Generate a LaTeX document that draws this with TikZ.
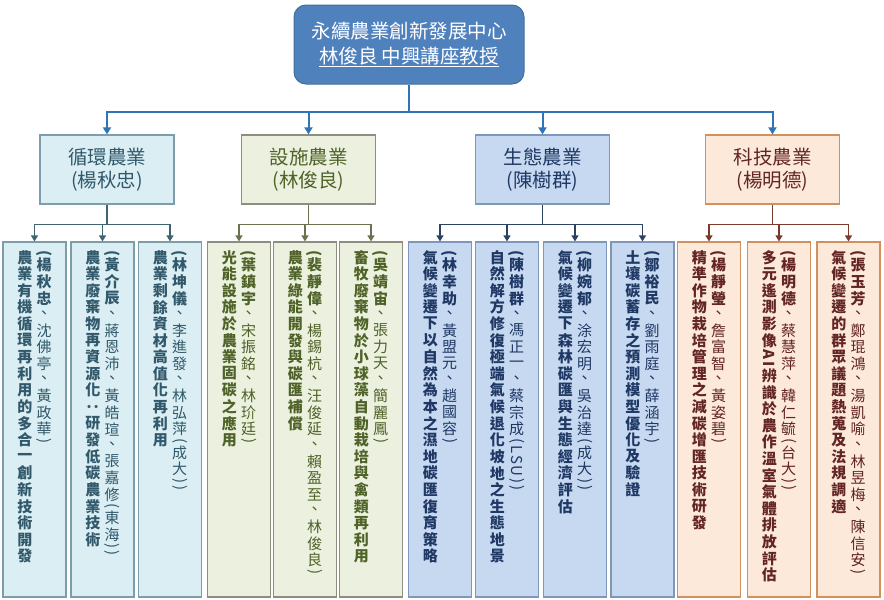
\documentclass[tikz,border=0pt]{standalone}
\usepackage{fontspec}
\setmainfont{Noto Sans CJK TC}
\usepackage{graphicx}
\usetikzlibrary{arrows.meta,calc}

\definecolor{topfill}{HTML}{4F81BD}
\definecolor{topdraw}{HTML}{41719C}
\definecolor{topline}{HTML}{2E75B6}
\definecolor{gAfill}{HTML}{DAEEF3}
\definecolor{gAdraw}{HTML}{7E9DAA}
\definecolor{gAtext}{HTML}{31596B}
\definecolor{gAline}{HTML}{3F6470}
\definecolor{gBfill}{HTML}{EBF1DE}
\definecolor{gBdraw}{HTML}{8E8E80}
\definecolor{gBtext}{HTML}{4F6228}
\definecolor{gBline}{HTML}{6E7150}
\definecolor{gCfill}{HTML}{C6D9F1}
\definecolor{gCdraw}{HTML}{8097BC}
\definecolor{gCtext}{HTML}{1F3864}
\definecolor{gCline}{HTML}{2D4263}
\definecolor{gDfill}{HTML}{FDE9D9}
\definecolor{gDdraw}{HTML}{D0915F}
\definecolor{gDtext}{HTML}{632523}
\definecolor{gDline}{HTML}{7B3A2C}

\makeatletter
\newdimen\vcw \vcw=17pt
\newdimen\vcp \vcp=16.6pt
\newdimen\vcc \vcc=15.6pt
\newcommand\vcell[1]{%
  \ifnum\expandafter`#1<128 %
    \vbox{\kern0.9pt\hbox to\vcw{\hss\rotatebox{-90}{#1}\hss}\kern0.9pt}%
  \else\ifnum\expandafter`#1=12289 %
    \vbox to\vcc{\vss\hbox to\vcw{\hss#1\hss}\vss}%
  \else\ifnum\expandafter`#1=65306 %
    \vbox to\vcp{\vss\hbox to\vcw{\hss\rotatebox{-90}{#1}\hss}\vss}%
  \else
    \vbox to\vcp{\vss\hbox to\vcw{\hss#1\hss}\vss}%
  \fi\fi\fi}
\newcommand\vseg[1]{\@tfor\vtmp:=#1\do{\vcell\vtmp}}
\makeatother
\newcommand\vtopic[1]{\vbox{\offinterlineskip\fontsize{15}{16}\selectfont\bfseries\vseg{#1}}}
\newcommand\vnames[2]{\vbox{\offinterlineskip\fontsize{15}{16}\selectfont\bfseries\vseg{#1}\mdseries\vseg{#2}}}

\tikzset{
  topbox/.style={draw=topdraw, fill=topfill, line width=1pt, rounded corners=12pt,
    minimum width=230pt, minimum height=79pt, text=white, align=center,
    font=\fontsize{19.5}{25}\selectfont},
  catbox/.style={line width=1.2pt, minimum width=134pt, minimum height=69pt,
    align=center, font=\fontsize{19.5}{23}\selectfont},
  leafbox/.style={line width=1.2pt, minimum width=63pt, minimum height=355pt, inner sep=0pt},
  coltext/.style={anchor=north, inner sep=0pt},
  toparrow/.style={draw=topline, line width=2pt, -{Triangle[width=8pt,length=7pt]}},
  topconn/.style={draw=topline, line width=2pt},
  gAbox/.style={fill=gAfill, draw=gAdraw}, gAtxt/.style={text=gAtext}, gAln/.style={draw=gAline},
  gBbox/.style={fill=gBfill, draw=gBdraw}, gBtxt/.style={text=gBtext}, gBln/.style={draw=gBline},
  gCbox/.style={fill=gCfill, draw=gCdraw}, gCtxt/.style={text=gCtext}, gCln/.style={draw=gCline},
  gDbox/.style={fill=gDfill, draw=gDdraw}, gDtxt/.style={text=gDtext}, gDln/.style={draw=gDline},
  leafconn/.style={line width=1.3pt},
  leafarrow/.style={line width=1.3pt, -{Triangle[width=7pt,length=6pt]}},
}

% #1 name, #2 left x, #3 group, #4 topic, #5 bold names, #6 other names
\newcommand\leaf[6]{%
  \node[leafbox,#3box] (#1) at (#2+31.5,419.5) {};
  \node[coltext,#3txt] (#1t) at ($(#1.north)+(-9.7,7.5)$) {\vtopic{#4}};
  \node[coltext,#3txt] (#1n) at ($(#1.north)+(9.7,7.5)$) {\vnames{#5}{#6}};
}

\begin{document}
\begin{tikzpicture}[x=1pt,y=-1pt]
\useasboundingbox[fill=white] (0,0) rectangle (884,600);

\node[topbox] (top) at (409,44.5) {永續農業創新發展中心\\\underline{林俊良 中興講座教授}};

\node[catbox,gAbox,gAtxt] (c1) at (107,169.5) {循環農業\\(楊秋忠)};
\node[catbox,gBbox,gBtxt] (c2) at (308.5,169.5) {設施農業\\(林俊良)};
\node[catbox,gCbox,gCtxt] (c3) at (542.5,169.5) {生態農業\\(陳樹群)};
\node[catbox,gDbox,gDtxt] (c4) at (772.5,169.5) {科技農業\\(楊明德)};

\coordinate (tj) at ($(top.south)+(0,27)$);
\draw[topconn] (top.south) -- (tj);
\foreach \c in {c1,c2,c3,c4} \draw[toparrow] (tj) -| (\c.north);

\leaf{l11}{3}{gA}{農業有機循環再利用的多合一創新技術開發}{(楊秋忠}{、沈佛亭、黃政華)}
\leaf{l12}{71}{gA}{農業廢棄物再資源化：研發低碳農業技術}{(黃介辰}{、蔣恩沛、黃皓瑄、張嘉修(東海))}
\leaf{l13}{138.5}{gA}{農業剩餘資材高值化再利用}{(林坤儀}{、李進發、林弘萍(成大))}

\leaf{l21}{207.5}{gB}{光能設施於農業固碳之應用}{(葉鎮宇}{、宋振銘、林玠廷)}
\leaf{l22}{273.5}{gB}{農業綠能開發與碳匯補償}{(裴靜偉}{、楊錫杭、汪俊延、賴盈至、林俊良)}
\leaf{l23}{339.5}{gB}{畜牧廢棄物於小球藻自動栽培與禽類再利用}{(吳靖宙}{、張力天、簡麗鳳)}

\leaf{l31}{408.5}{gC}{氣候變遷下以自然為本之濕地碳匯復育策略}{(林幸助}{、黃盟元、趙國容)}
\leaf{l32}{475.5}{gC}{自然解方修復極端氣候退化坡地之生態地景}{(陳樹群}{、馮正一、蔡宗成(LSU))}
\leaf{l33}{543.5}{gC}{氣候變遷下森林碳匯與生態經濟評估}{(柳婉郁}{、涂宏明、吳治達(成大))}
\leaf{l34}{611}{gC}{土壤碳蓄存之預測模型優化及驗證}{(鄒裕民}{、劉雨庭、薛涵宇)}

\leaf{l41}{677.5}{gD}{精準作物栽培管理之減碳增匯技術研發}{(楊靜瑩}{、詹富智、黃姿碧)}
\leaf{l42}{747.5}{gD}{多元遙測影像AI辨識於農作溫室氣體排放評估}{(楊明德}{、蔡慧萍、韓仁毓(台大))}
\leaf{l43}{817}{gD}{氣候變遷的群眾議題熱蒐及法規調適}{(張玉芳}{、鄭琨鴻、湯凱喻、林昱梅、陳信安)}

\coordinate (j1) at ($(c1.south)+(0,20)$);
\draw[leafconn,gAln] (c1.south) -- (j1);
\foreach \l in {l11,l12,l13} \draw[leafarrow,gAln] (j1) -| (\l.north);
\coordinate (j2) at ($(c2.south)+(0,20)$);
\draw[leafconn,gBln] (c2.south) -- (j2);
\foreach \l in {l21,l22,l23} \draw[leafarrow,gBln] (j2) -| (\l.north);
\coordinate (j3) at ($(c3.south)+(0,20)$);
\draw[leafconn,gCln] (c3.south) -- (j3);
\foreach \l in {l31,l32,l33,l34} \draw[leafarrow,gCln] (j3) -| (\l.north);
\coordinate (j4) at ($(c4.south)+(0,20)$);
\draw[leafconn,gDln] (c4.south) -- (j4);
\foreach \l in {l41,l42,l43} \draw[leafarrow,gDln] (j4) -| (\l.north);
\end{tikzpicture}
\end{document}
